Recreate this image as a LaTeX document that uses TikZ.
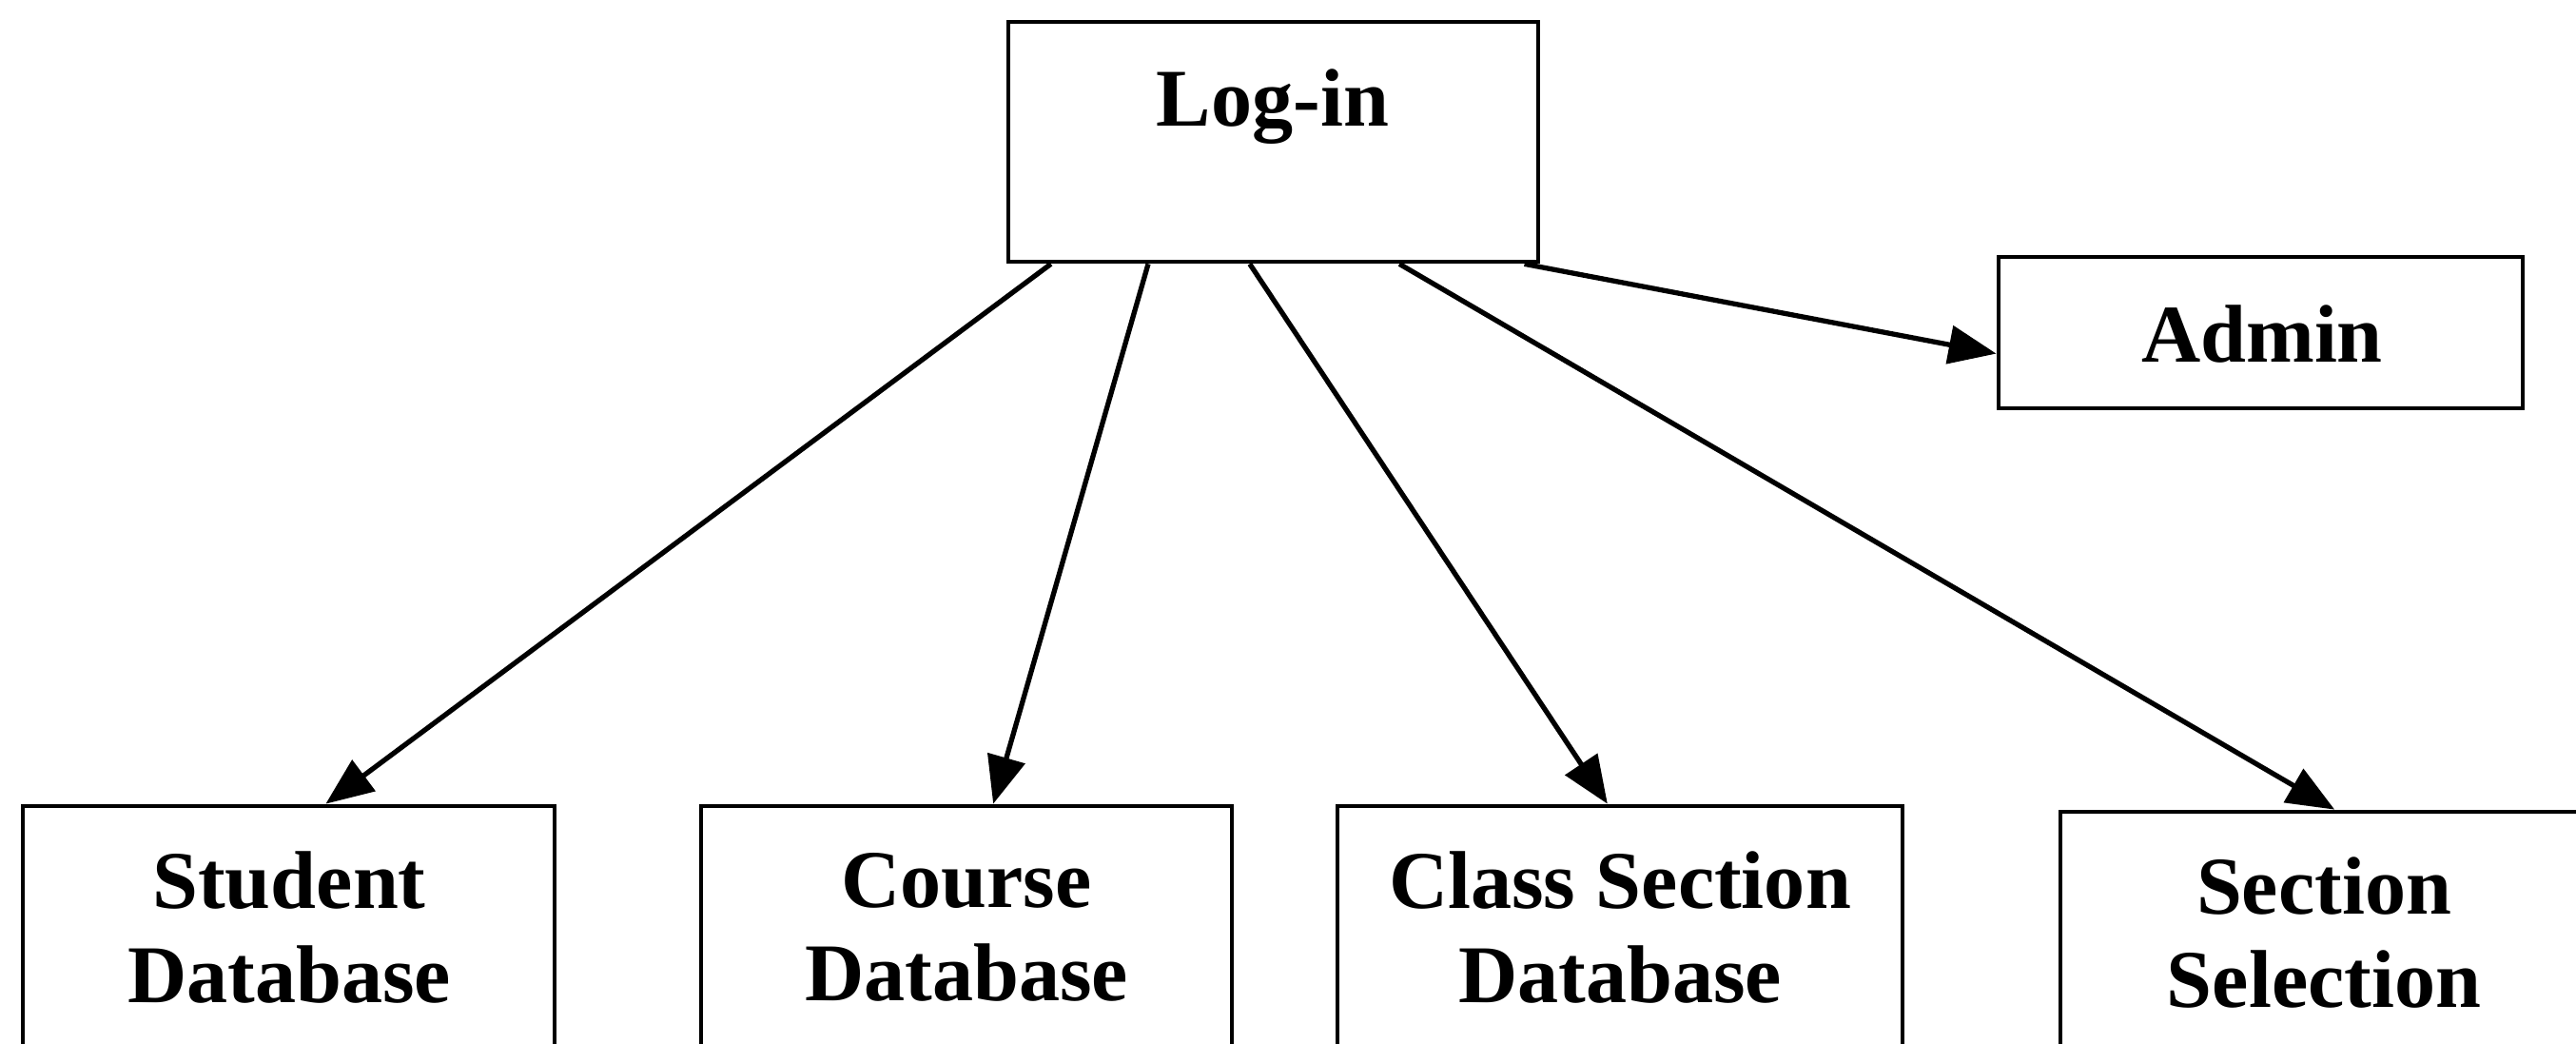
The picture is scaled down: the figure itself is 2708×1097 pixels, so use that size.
\documentclass[tikz,border=0pt]{standalone}
\usepackage{fontspec}
\setmainfont{Liberation Serif}
\usetikzlibrary{arrows.meta,calc}
\begin{document}
\begin{tikzpicture}[x=0.01cm,y=-0.01cm,
  box/.style={draw,line width=1.3pt,inner sep=0pt},
  lbl/.style={font=\fontsize{24.5}{28}\selectfont\bfseries,align=center,inner sep=0pt},
  conn/.style={line width=1.5pt,-{Triangle[length=0.5cm,width=0.4cm]}}]
\useasboundingbox (0,0) rectangle (2708,1097);
\clip (0,0) rectangle (2708,1097);
% boxes
\node[box,minimum width=5.57cm,minimum height=2.52cm] (login) at (1338.5,149) {};
\node[box,minimum width=5.51cm,minimum height=1.59cm] (admin) at (2376.5,349.5) {};
\node[box,minimum width=5.59cm,minimum height=2.83cm] (student) at (303.5,988.5) {};
\node[box,minimum width=5.58cm,minimum height=2.83cm] (course) at (1016,988.5) {};
\node[box,minimum width=5.94cm,minimum height=2.83cm] (class) at (1703,988.5) {};
\node[box,minimum width=5.54cm,minimum height=2.77cm] (section) at (2443,991.5) {};
% labels
\node[lbl,anchor=base] (logintxt) at (1338,133) {Log-in};
\node[lbl,anchor=base] (admintxt) at (2378,380) {Admin};
\node[lbl] (studenttxt) at (304,974.5) {Student\\Database};
\node[lbl] (coursetxt) at (1016,974.5) {Course\\Database};
\node[lbl] (classtxt) at (1703,974.5) {Class Section\\Database};
\node[lbl] (sectiontxt) at (2443,980) {Section\\Selection};
% connectors
\draw[conn] ($(login.south west)!0.084!(login.south east)$) -- ($(student.north west)!0.569!(student.north east)$);
\draw[conn] ($(login.south west)!0.266!(login.south east)$) -- ($(course.north west)!0.550!(course.north east)$);
\draw[conn] ($(login.south west)!0.456!(login.south east)$) -- ($(class.north west)!0.478!(class.north east)$);
\draw[conn] ($(login.south west)!0.736!(login.south east)$) -- ($(section.north west)!0.520!(section.north east)$);
\draw[conn] ($(login.south west)!0.97!(login.south east)$) -- ($(admin.north west)!0.635!(admin.south west)$);
\end{tikzpicture}
\end{document}
